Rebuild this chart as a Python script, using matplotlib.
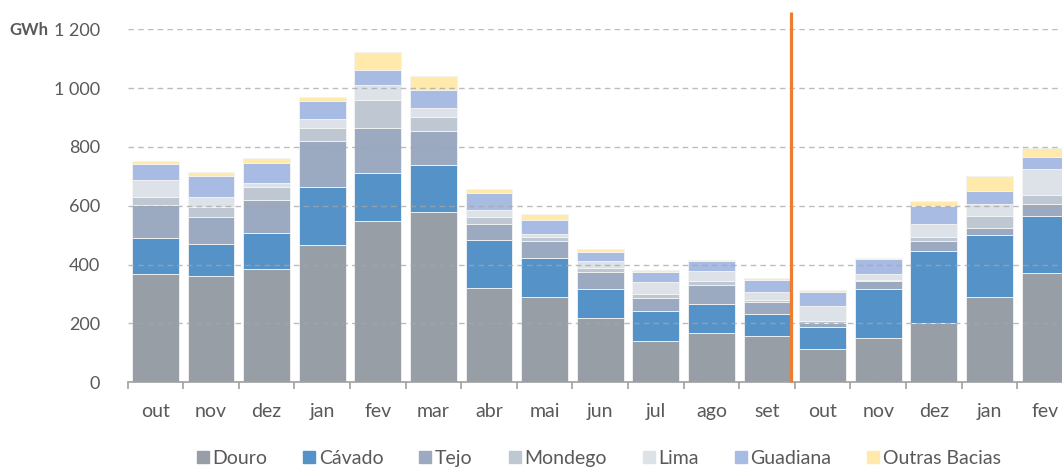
import matplotlib
matplotlib.use("Agg")
import matplotlib.pyplot as plt
from matplotlib.lines import Line2D
from matplotlib.ticker import FuncFormatter, FixedLocator
import numpy as np

# Monthly hydro production by river basin (GWh)
months = ["out", "nov", "dez", "jan", "fev", "mar", "abr", "mai", "jun",
          "jul", "ago", "set", "out", "nov", "dez", "jan", "fev"]

douro    = [367, 363, 384, 468, 550, 580, 320, 290, 218, 139, 167, 157, 113, 150, 202, 289, 370]
cavado   = [124, 107, 123, 195, 163, 160, 163, 133,  98, 103,  99,  76,  76, 167, 243, 211, 194]
tejo     = [113,  91, 114, 158, 150, 113,  55,  57,  59,  45,  64,  41,  14,  27,  37,  26,  41]
mondego  = [ 25,  34,  42,  45,  97,  50,  23,  14,  13,  12,  13,   7,   6,   3,  12,  41,  33]
lima     = [ 58,  35,  16,  29,  51,  31,  24,   9,  23,  41,  35,  25,  52,  21,  45,  40,  87]
guadiana = [ 54,  72,  65,  62,  51,  60,  57,  50,  32,  34,  33,  42,  46,  52,  60,  43,  41]
outras   = [ 12,  14,  20,  13,  62,  48,  14,  19,  10,   7,   6,   5,   6,   4,  19,  50,  29]

series_names = ["Douro", "Cávado", "Tejo", "Mondego", "Lima", "Guadiana", "Outras Bacias"]
series_values = [douro, cavado, tejo, mondego, lima, guadiana, outras]
series_colors = ["#979ea6", "#5592c8", "#9baac0", "#bec7d2", "#dde2e9", "#a7bbe3", "#ffe9ab"]

# position of the marker separating the two hydrological years
year_break = 11.43
y_ticks = [0, 200, 400, 600, 800, 1000, 1200]

plt.rcParams["font.family"] = ["Lato", "DejaVu Sans"]
text_color = "#595959"

fig = plt.figure(figsize=(10.62, 4.68), dpi=100)
ax = fig.add_axes([0.1202, 0.1831, 0.890, 0.7543])

x = np.arange(len(months))
bottom = np.zeros(len(months))
handles = []
for name, vals, col in zip(series_names, series_values, series_colors):
    vals = np.asarray(vals, dtype=float)
    ax.bar(x, vals, bottom=bottom, width=0.84, color=col,
           edgecolor="#f4f4f4", linewidth=0.6, zorder=2)
    bottom += vals
    handles.append(Line2D([], [], marker="s", linestyle="none",
                          markersize=8, markerfacecolor=col,
                          markeredgecolor=col, label=name))

ax.set_xlim(-0.5, len(months) - 0.5)
ax.set_ylim(0, 1200)

# dashed horizontal gridlines drawn over the bars
ax.set_yticks(y_ticks)
ax.yaxis.set_major_formatter(FuncFormatter(lambda v, p: f"{v:,.0f}".replace(",", " ")))
ax.grid(axis="y", linestyle=(0, (4, 3)), color="#a6a6a6", linewidth=1.0,
        alpha=0.75, zorder=3)
ax.set_axisbelow(False)
ax.tick_params(axis="y", length=0, pad=20, labelsize=13, labelcolor=text_color)

ax.set_xticks(x)
ax.set_xticklabels(months)
ax.tick_params(axis="x", which="major", length=0, pad=15, labelsize=14,
               labelcolor=text_color)
ax.xaxis.set_minor_locator(FixedLocator(np.arange(-0.5, len(months), 1.0)))
ax.tick_params(axis="x", which="minor", length=5, width=1.2, color="#a0a0a0",
               direction="out")

for side in ["left", "right", "top"]:
    ax.spines[side].set_visible(False)
ax.spines["bottom"].set_color("#a0a0a0")
ax.spines["bottom"].set_linewidth(1.2)

# vertical marker between hydrological years
ax.plot([year_break, year_break], [0, 1259], color="#ed7d31", linewidth=2.3,
        clip_on=False, zorder=5, solid_capstyle="butt")

fig.text(0.009, 0.935, "GWh", fontsize=12, fontweight="bold",
         color=text_color, va="center", ha="left")

fig.legend(handles=handles, loc="center", bbox_to_anchor=(0.563, 0.020),
           ncol=7, frameon=False, fontsize=14, handletextpad=0.1,
           columnspacing=1.75, handlelength=0.8, labelcolor=text_color)

fig.savefig("out.png", dpi=100)
